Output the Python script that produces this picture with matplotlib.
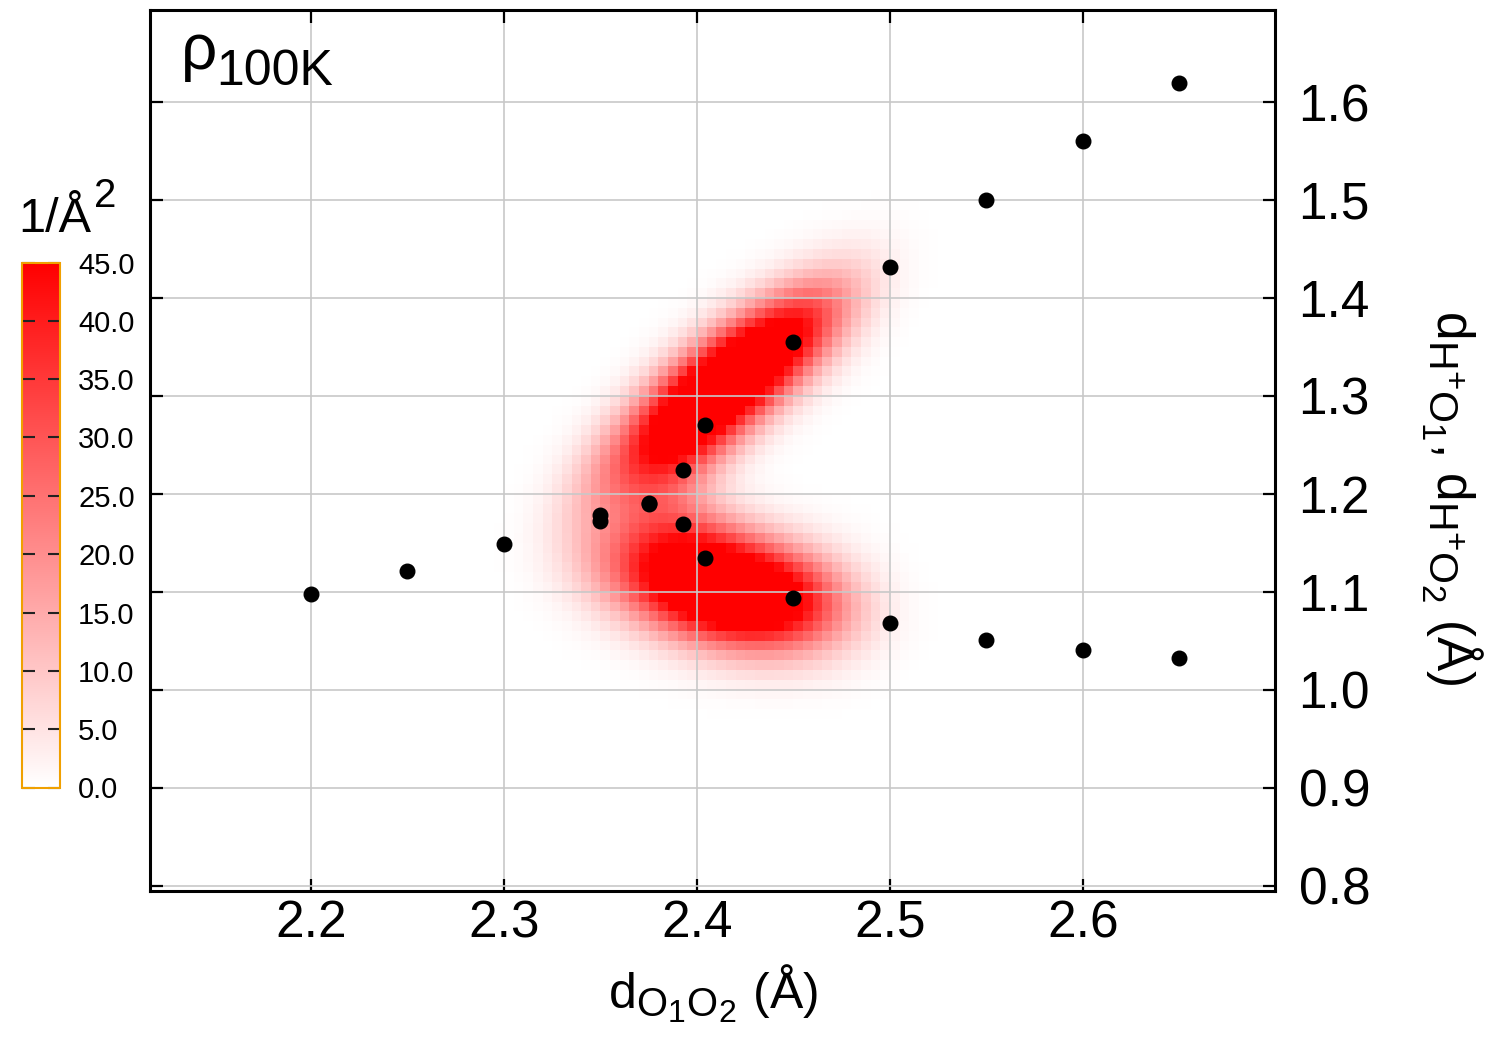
import numpy as np
import matplotlib
matplotlib.use('Agg')
import matplotlib.pyplot as plt
import matplotlib._mathtext as mathtext_mod
from matplotlib.colors import LinearSegmentedColormap

plt.rcParams['font.family'] = ['Liberation Sans', 'DejaVu Sans']
plt.rcParams['mathtext.fontset'] = 'custom'
plt.rcParams['mathtext.rm'] = 'Liberation Sans'
plt.rcParams['mathtext.it'] = 'Liberation Sans:italic'
# subscripts in the original are larger than matplotlib's default 0.7
mathtext_mod.SHRINK_FACTOR = 0.8

# minimum-energy points (d_O1O2, d_H+O)
pts_x = [2.20, 2.25, 2.30, 2.35, 2.35, 2.375, 2.375, 2.393, 2.393, 2.404, 2.404,
         2.45, 2.45, 2.50, 2.50, 2.55, 2.55, 2.60, 2.60, 2.65, 2.65]
pts_y = [1.098, 1.121, 1.149, 1.178, 1.172, 1.191, 1.190, 1.224, 1.169, 1.270, 1.134,
         1.355, 1.094, 1.432, 1.068, 1.500, 1.051, 1.560, 1.040, 1.619, 1.032]

# density blobs of the lower branch
# (upper branch is the mirror image d_H+O1 <-> d_H+O2)
blob_x = [2.350, 2.375, 2.400, 2.425, 2.450, 2.475, 2.390]
blob_y = [1.135, 1.123, 1.110, 1.098, 1.089, 1.080, 1.170]
blob_sx = [0.018, 0.018, 0.018, 0.018, 0.018, 0.018, 0.020]
blob_sy = [0.036, 0.037, 0.037, 0.037, 0.036, 0.035, 0.030]
blob_amp = [8, 24, 46, 46, 31, 8, 10]

cbar_ticks = [0, 5, 10, 15, 20, 25, 30, 35, 40, 45]
x_ticks = [2.2, 2.3, 2.4, 2.5, 2.6]
y_ticks = [0.8, 0.9, 1.0, 1.1, 1.2, 1.3, 1.4, 1.5, 1.6]

# histogram grid
xe = np.arange(2.20, 2.6001, 0.005)
ye = np.arange(0.90, 1.6001, 0.01)
xc = 0.5 * (xe[:-1] + xe[1:])
yc = 0.5 * (ye[:-1] + ye[1:])
X, Y = np.meshgrid(xc, yc)


def branch(x, y):
    z = np.zeros_like(x)
    for cx, cy, sx, sy, a in zip(blob_x, blob_y, blob_sx, blob_sy, blob_amp):
        z += a * np.exp(-(x - cx) ** 2 / (2 * sx ** 2) - (y - cy) ** 2 / (2 * sy ** 2))
    return z


rho = branch(X, Y) + branch(X, X - Y)

cmap = LinearSegmentedColormap.from_list('wr', ['#ffffff', '#ff0000'])

fig = plt.figure(figsize=(15, 10.5), dpi=100)
ax = fig.add_axes([0.1, 0.1514, 0.75, 0.839])

mesh = ax.pcolormesh(xe, ye, rho, cmap=cmap, vmin=0, vmax=45, shading='flat',
                     antialiased=False, zorder=0)
ax.scatter(pts_x, pts_y, s=110, color='black', zorder=4)

ax.set_xlim(2.1166, 2.6995)
ax.set_ylim(0.7944, 1.6939)
ax.set_xticks(x_ticks)
ax.set_yticks(y_ticks)
ax.grid(True, color='#c8c8c8', linewidth=1.2, zorder=1)
ax.set_axisbelow(False)
for s in ax.spines.values():
    s.set_linewidth(2.2)
ax.tick_params(axis='both', direction='in', length=9, width=1.6, top=True, bottom=True,
               left=True, right=True, labelsize=37)
ax.tick_params(axis='y', labelleft=False, labelright=True, pad=17)
ax.tick_params(axis='x', pad=6)

ax.set_xlabel(r'$\mathrm{d_{O_1O_2}}$ (Å)', fontsize=36, labelpad=10)
fig.text(1452 / 1500, 1 - 498 / 1050,
         r'$\mathrm{d_{H^{+}O_1}}$, $\mathrm{d_{H^{+}O_2}}$ (Å)', fontsize=37,
         rotation=270, ha='center', va='center')

fig.text(181 / 1500, 1 - 69 / 1050, 'ρ', fontsize=46, va='baseline')
fig.text(216 / 1500, 1 - 85 / 1050, '100K', fontsize=36, va='baseline')

# colorbar
cax = fig.add_axes([0.01467, 0.25, 0.02533, 0.5])
cb = fig.colorbar(mesh, cax=cax, ticks=cbar_ticks, format='%.1f')
cb.outline.set_edgecolor('#f0a000')
cb.outline.set_linewidth(1.5)
cax.tick_params(direction='in', length=9, width=1.5, left=True, right=True,
                labelsize=21, pad=13, color='#222222')
fig.text(18 / 1500, 1 - 232 / 1050, '1/Å', fontsize=35, va='baseline')
fig.text(94 / 1500, 1 - 207 / 1050, '2', fontsize=29, va='baseline')

fig.savefig('out.png', dpi=100)
